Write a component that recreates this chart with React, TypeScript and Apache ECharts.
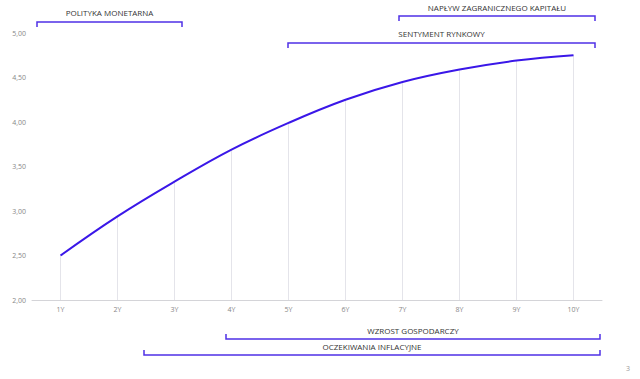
import React, { useEffect, useRef } from "react";
import * as echarts from "echarts";

const categories = ["1Y", "2Y", "3Y", "4Y", "5Y", "6Y", "7Y", "8Y", "9Y", "10Y"];
const yieldValues = [2.5, 2.94, 3.33, 3.69, 3.99, 4.25, 4.45, 4.59, 4.69, 4.75];
const yTicks = { min: 2, max: 5, interval: 0.5 };

const topBrackets = [
  { label: "POLITYKA MONETARNA", x1: 37, x2: 182, y: 22, ty: 12 },
  { label: "NAPŁYW ZAGRANICZNEGO KAPITAŁU", x1: 399, x2: 595, y: 16, ty: 7 },
  { label: "SENTYMENT RYNKOWY", x1: 288, x2: 595, y: 43, ty: 33 },
];
const bottomBrackets = [
  { label: "WZROST GOSPODARCZY", x1: 226, x2: 600, y: 339, ty: 330 },
  { label: "OCZEKIWANIA INFLACYJNE", x1: 144, x2: 600, y: 355, ty: 346 },
];

const FONT = "'Open Sans', sans-serif";
const BR = "#4f31e6";

export default function App() {
  const ref = useRef<HTMLDivElement>(null);
  useEffect(() => {
    if (!ref.current) return;
    const chart = echarts.init(ref.current, null, { renderer: "svg" });
    const graphics: any[] = [];
    const addBracket = (b: any, down: boolean) => {
      const tick = down ? 5 : -5;
      graphics.push({
        type: "polyline",
        shape: { points: [[b.x1, b.y + tick], [b.x1, b.y], [b.x2, b.y], [b.x2, b.y + tick]] },
        style: { stroke: BR, lineWidth: 1.5, fill: null },
      });
      graphics.push({
        type: "text",
        x: (b.x1 + b.x2) / 2,
        y: b.ty - 4,
        style: {
          text: b.label,
          fill: "#333333",
          fontSize: 8,
          fontFamily: FONT,
          align: "center",
          verticalAlign: "top",
        },
      });
    };
    topBrackets.forEach((b) => addBracket(b, true));
    bottomBrackets.forEach((b) => addBracket(b, false));
    graphics.push({
      type: "text",
      x: 628,
      y: 365,
      style: { text: "3", fill: "#999", fontSize: 7, fontFamily: FONT, align: "center", verticalAlign: "top" },
    });

    chart.setOption({
      animation: false,
      grid: { left: 32, right: 38, top: 33, bottom: 79, containLabel: false },
      xAxis: {
        type: "category",
        data: categories,
        boundaryGap: true,
        axisLine: { lineStyle: { color: "#d4d4d8", width: 1 } },
        axisTick: { show: false },
        axisLabel: { color: "#888", fontSize: 7, fontFamily: FONT, margin: 6 },
        splitLine: { show: false },
      },
      yAxis: {
        type: "value",
        min: yTicks.min,
        max: yTicks.max,
        interval: yTicks.interval,
        axisLine: { show: false },
        axisTick: { show: false },
        splitLine: { show: false },
        axisLabel: {
          color: "#888",
          fontSize: 7,
          fontFamily: FONT,
          margin: 6,
          formatter: (v: number) => v.toFixed(2).replace(".", ","),
        },
      },
      graphic: graphics,
      series: [
        {
          type: "bar",
          data: yieldValues,
          barWidth: 1,
          itemStyle: { color: "#e4e4ea" },
          silent: true,
        },
        {
          type: "line",
          data: yieldValues,
          smooth: 0.4,
          showSymbol: false,
          lineStyle: { color: "#3a17e8", width: 2 },
        },
      ],
    });
    return () => chart.dispose();
  }, []);
  return (
    <div
      ref={ref}
      style={{ position: "absolute", left: 0, top: 0, width: 640, height: 379 }}
    />
  );
}
